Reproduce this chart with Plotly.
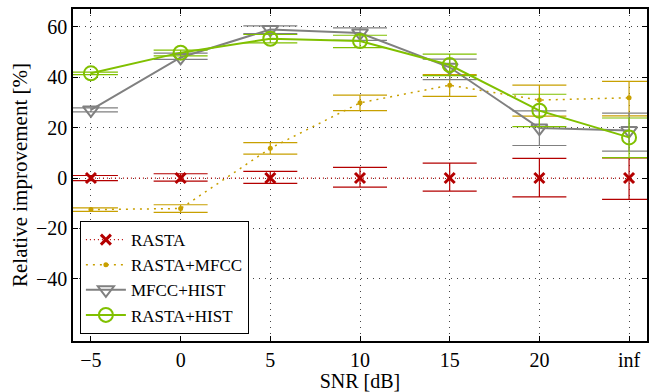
import plotly.graph_objects as go

snr_labels = ["\u22125", "0", "5", "10", "15", "20", "inf"]
snr_pos = [0, 1, 2, 3, 4, 5, 6]

rasta = [0, 0, 0, 0, 0, 0, 0]
rasta_hi = [1.0, 1.7, 2.6, 4.2, 5.9, 7.8, 8.0]
rasta_lo = [1.0, 1.2, 2.1, 3.6, 5.2, 7.5, 8.5]

rasta_mfcc = [-12.5, -12.1, 11.8, 29.8, 36.8, 30.9, 31.8]
rasta_mfcc_hi = [0.7, 1.5, 2.2, 3.1, 4.2, 5.9, 6.5]
rasta_mfcc_lo = [0.7, 1.5, 2.3, 3.1, 4.4, 6.4, 7.2]

mfcc_hist = [27.0, 47.8, 58.9, 57.5, 43.9, 19.8, 18.8]
mfcc_hist_hi = [0.8, 1.7, 1.4, 2.0, 3.2, 6.8, 6.9]
mfcc_hist_lo = [0.8, 0.8, 1.7, 2.9, 4.9, 6.9, 8.1]

rasta_hist = [41.5, 49.7, 55.2, 54.3, 44.8, 26.7, 16.1]
rasta_hist_hi = [0.5, 1.0, 1.7, 2.3, 4.3, 6.5, 7.7]
rasta_hist_lo = [0.5, 1.3, 1.6, 2.6, 4.2, 6.3, 8.0]

y_ticks = [-40, -20, 0, 20, 40, 60]

RED = "#b40000"
GOLD = "#c8a000"
GRAY = "#808080"
GREEN = "#80c000"
FONT = "Liberation Serif"

fig = go.Figure()


def err(hi, lo, color):
    return dict(type="data", symmetric=False, array=hi, arrayminus=lo,
                color=color, thickness=1.2, width=27)


fig.add_trace(go.Scatter(
    x=snr_pos, y=rasta, name="RASTA", mode="lines+markers",
    line=dict(color=RED, width=1.2, dash="1px,3px"),
    marker=dict(symbol="x-thin", size=10, line=dict(color=RED, width=3)),
    error_y=err(rasta_hi, rasta_lo, RED)))

fig.add_trace(go.Scatter(
    x=snr_pos, y=rasta_mfcc, name="RASTA+MFCC", mode="lines+markers",
    line=dict(color=GOLD, width=1.5, dash="2px,5px"),
    marker=dict(symbol="circle", size=5, color=GOLD),
    error_y=err(rasta_mfcc_hi, rasta_mfcc_lo, GOLD)))

fig.add_trace(go.Scatter(
    x=snr_pos, y=mfcc_hist, name="MFCC+HIST", mode="lines+markers",
    line=dict(color=GRAY, width=2),
    marker=dict(symbol="triangle-down-open", size=14, color=GRAY, line=dict(width=2)),
    error_y=err(mfcc_hist_hi, mfcc_hist_lo, GRAY)))

fig.add_trace(go.Scatter(
    x=snr_pos, y=rasta_hist, name="RASTA+HIST", mode="lines+markers",
    line=dict(color=GREEN, width=2),
    marker=dict(symbol="circle-open", size=14, color=GREEN, line=dict(width=2)),
    error_y=err(rasta_hist_hi, rasta_hist_lo, GREEN)))

axis_common = dict(
    showline=True, linecolor="black", linewidth=1.5, mirror="allticks",
    ticks="inside", ticklen=5, tickcolor="black", tickwidth=1,
    showgrid=True, gridcolor="#444", gridwidth=1, griddash="1px,5px",
    zeroline=False, tickfont=dict(family=FONT, size=20, color="black"),
)

fig.update_xaxes(
    range=[-0.2, 6.2], tickvals=snr_pos, ticktext=snr_labels,
    title=dict(text="SNR [dB]", font=dict(family=FONT, size=20, color="black"), standoff=0),
    **axis_common)
fig.update_yaxes(
    range=[-64.6, 67], tickvals=y_ticks,
    title=dict(text="Relative improvement [%]", font=dict(family=FONT, size=21, color="black"), standoff=3),
    **axis_common)

fig.update_layout(
    width=657, height=392,
    margin=dict(l=73, r=10, t=7, b=48),
    paper_bgcolor="white", plot_bgcolor="white",
    font=dict(family=FONT, size=20, color="black"),
    showlegend=True,
    legend=dict(x=0.012, y=0.021, xanchor="left", yanchor="bottom",
                bgcolor="white", bordercolor="black", borderwidth=1,
                font=dict(family=FONT, size=17, color="black"),
                tracegroupgap=0, itemwidth=40),
)

fig.write_html("out.html", config={"displayModeBar": False},
               post_script="document.body.style.margin='0';")
